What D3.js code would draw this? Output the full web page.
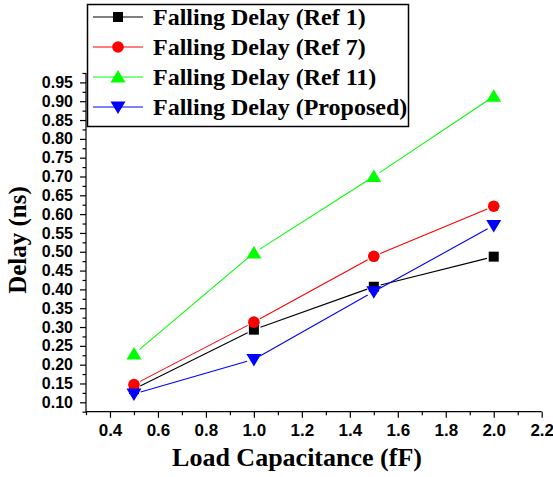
<!DOCTYPE html>
<html>
<head>
<meta charset="utf-8">
<script src="https://cdn.jsdelivr.net/npm/d3@7"></script>
<style>
  body { margin: 0; background: #fff; }
  .tick-label { font-family: Arial, "Liberation Sans", sans-serif; font-weight: bold; fill: #000; }
  .serif-bold { font-family: "Times New Roman", "Liberation Serif", serif; font-weight: bold; fill: #000; }
</style>
</head>
<body>
<div id="chart"></div>
<script>
// --- Data ---
const loadCap = [0.5, 1.0, 1.5, 2.0];
const ref1 = [0.135, 0.293, 0.407, 0.487];
const ref7 = [0.147, 0.313, 0.488, 0.621];
const ref11 = [0.228, 0.497, 0.700, 0.913];
const proposed = [0.122, 0.214, 0.394, 0.570];

const seriesNames = ['Falling Delay (Ref 1)', 'Falling Delay (Ref 7)', 'Falling Delay (Ref 11)', 'Falling Delay (Proposed)'];
const seriesValues = [ref1, ref7, ref11, proposed];
const seriesColors = ['#000000', '#ff0000', '#00ff00', '#0000ff'];
const seriesMarkers = ['square', 'circle', 'triangleUp', 'triangleDown'];

const xMajorTicks = [0.4, 0.6, 0.8, 1.0, 1.2, 1.4, 1.6, 1.8, 2.0, 2.2];
const xMinorTicks = [0.3, 0.5, 0.7, 0.9, 1.1, 1.3, 1.5, 1.7, 1.9, 2.1];
const yMajorTicks = [0.10, 0.15, 0.20, 0.25, 0.30, 0.35, 0.40, 0.45, 0.50, 0.55, 0.60, 0.65, 0.70, 0.75, 0.80, 0.85, 0.90, 0.95];
const yMinorTicks = [0.075, 0.125, 0.175, 0.225, 0.275, 0.325, 0.375, 0.425, 0.475, 0.525, 0.575, 0.625, 0.675, 0.725, 0.775, 0.825, 0.875, 0.925, 0.975];

const W = 553, H = 477;
const margin = { top: 73, right: 11.3, bottom: 65.3, left: 86 };

const svg = d3.select('#chart').append('svg')
    .attr('width', W)
    .attr('height', H);

const x = d3.scaleLinear().domain([0.3, 2.2]).range([margin.left, W - margin.right]);
const y = d3.scaleLinear().domain([0.075, 0.975]).range([H - margin.bottom, margin.top]);

// --- Axes ---
const xAxis = svg.append('g')
    .attr('transform', `translate(0,${H - margin.bottom})`)
    .call(d3.axisBottom(x).tickValues(xMajorTicks).tickFormat(d3.format('.1f')).tickSize(6).tickPadding(6));
xAxis.selectAll('text').attr('class', 'tick-label').style('font-size', '17px');
xAxis.selectAll('path, line').attr('stroke', '#000').attr('stroke-width', 1.2);
xAxis.select('.domain').attr('d', `M${x(0.3)},0H${x(2.2)}`);

svg.append('g')
    .attr('transform', `translate(0,${H - margin.bottom})`)
    .call(d3.axisBottom(x).tickValues(xMinorTicks).tickFormat('').tickSize(3.5))
    .call(g => g.select('.domain').remove())
    .selectAll('line').attr('stroke', '#000').attr('stroke-width', 1.2);

const yAxis = svg.append('g')
    .attr('transform', `translate(${margin.left},0)`)
    .call(d3.axisLeft(y).tickValues(yMajorTicks).tickFormat(d3.format('.2f')).tickSize(6).tickPadding(7));
yAxis.selectAll('text').attr('class', 'tick-label').style('font-size', '16px');
yAxis.selectAll('path, line').attr('stroke', '#000').attr('stroke-width', 1.2);
yAxis.select('.domain').attr('d', `M0,${y(0.975)}V${y(0.075)}`);

svg.append('g')
    .attr('transform', `translate(${margin.left},0)`)
    .call(d3.axisLeft(y).tickValues(yMinorTicks).tickFormat('').tickSize(3.5))
    .call(g => g.select('.domain').remove())
    .selectAll('line').attr('stroke', '#000').attr('stroke-width', 1.2);

// --- Axis titles ---
svg.append('text')
    .attr('class', 'serif-bold')
    .attr('x', 297)
    .attr('y', 466)
    .attr('text-anchor', 'middle')
    .style('font-size', '26px')
    .text('Load Capacitance (fF)');

svg.append('text')
    .attr('class', 'serif-bold')
    .attr('transform', `translate(26,${240}) rotate(-90)`)
    .attr('text-anchor', 'middle')
    .style('font-size', '25px')
    .text('Delay (ns)');

// --- Marker helper ---
function drawMarker(g, type, cx, cy, color) {
    if (type === 'square') {
        g.append('rect').attr('x', cx - 5).attr('y', cy - 5).attr('width', 10).attr('height', 10).attr('fill', color);
    } else if (type === 'circle') {
        g.append('circle').attr('cx', cx).attr('cy', cy).attr('r', 5.8).attr('fill', color);
    } else if (type === 'triangleUp') {
        g.append('path').attr('d', `M${cx},${cy - 7}L${cx + 7.5},${cy + 5.5}L${cx - 7.5},${cy + 5.5}Z`).attr('fill', color);
    } else {
        g.append('path').attr('d', `M${cx},${cy + 7}L${cx + 7.5},${cy - 5.5}L${cx - 7.5},${cy - 5.5}Z`).attr('fill', color);
    }
}

// --- Series (lines with small gaps at markers) ---
const gap = 7;
seriesValues.forEach((vals, si) => {
    const g = svg.append('g');
    const pts = loadCap.map((c, i) => [x(c), y(vals[i])]);
    for (let i = 0; i < pts.length - 1; i++) {
        const [x1, y1] = pts[i], [x2, y2] = pts[i + 1];
        const len = Math.hypot(x2 - x1, y2 - y1);
        const ux = (x2 - x1) / len, uy = (y2 - y1) / len;
        g.append('line')
            .attr('x1', x1 + ux * gap).attr('y1', y1 + uy * gap)
            .attr('x2', x2 - ux * gap).attr('y2', y2 - uy * gap)
            .attr('stroke', seriesColors[si])
            .attr('stroke-width', 1.1);
    }
    pts.forEach(p => drawMarker(g, seriesMarkers[si], p[0], p[1], seriesColors[si]));
});

// --- Legend ---
const legend = svg.append('g');
legend.append('rect')
    .attr('x', 87.5).attr('y', 4.5)
    .attr('width', 321).attr('height', 122)
    .attr('fill', '#fff')
    .attr('stroke', '#000')
    .attr('stroke-width', 1.5);

const rowY = [17, 47, 77, 107];
seriesNames.forEach((name, i) => {
    legend.append('line')
        .attr('x1', 93).attr('x2', 143)
        .attr('y1', rowY[i]).attr('y2', rowY[i])
        .attr('stroke', seriesColors[i]).attr('stroke-width', 1.1);
    drawMarker(legend, seriesMarkers[i], 118, rowY[i], seriesColors[i]);
    legend.append('text')
        .attr('class', 'serif-bold')
        .attr('x', 153)
        .attr('y', rowY[i] + 8)
        .style('font-size', '24px')
        .text(name);
});
</script>
</body>
</html>
